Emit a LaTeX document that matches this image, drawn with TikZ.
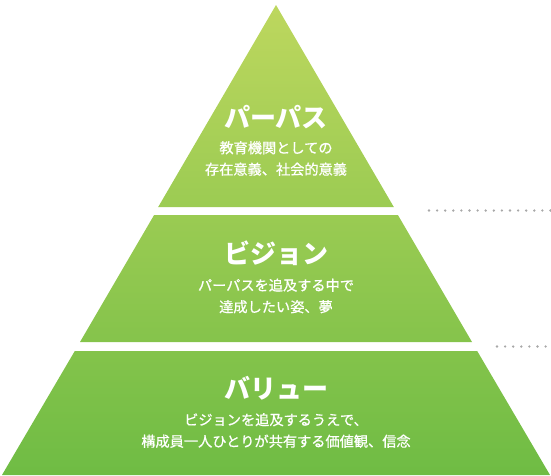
\documentclass[tikz,border=0pt]{standalone}
\usepackage{fontspec}
\newfontfamily\jp{Noto Sans CJK JP}
\newfontfamily\jpsub{Noto Sans CJK JP}[FakeBold=0.8]
\definecolor{gtop}{HTML}{BDD75E}
\definecolor{gmid}{HTML}{9CCB50}
\definecolor{gbot}{HTML}{6FBC44}
\definecolor{dotgray}{HTML}{A8A8A8}
\tikzset{
  titletext/.style={text=white, font=\jp\bfseries\fontsize{26}{30}\selectfont, inner sep=0pt, anchor=center},
  subtext/.style={text=white, font=\jpsub\fontsize{14.2}{21.5}\selectfont, inner sep=0pt, align=center, anchor=center},
  dotline/.style={dotgray, line width=2.6pt, line cap=round, dash pattern=on 0pt off 8.1pt}
}
\begin{document}
\begin{tikzpicture}[x=1pt,y=-1pt]
\useasboundingbox (0,0) rectangle (551,475);
% geometry: apex (276,5), base corners (2,475) and (550,475)
\begin{scope}
  \clip (276,5) -- (393.8,207) -- (158.2,207) -- cycle
        (154.1,215) -- (397.9,215) -- (472.0,342) -- (80.0,342) -- cycle
        (74.8,351) -- (477.2,351) -- (550,475) -- (2,475) -- cycle;
  \shade[top color=gtop, middle color=gmid, bottom color=gbot] (0,5) rectangle (551,475);
\end{scope}
% dotted separators
\coordinate (d1a) at (429,210.5);
\coordinate (d1b) at (551,210.5);
\coordinate (d2a) at (497,346.5);
\coordinate (d2b) at (551,346.5);
\draw[dotline] (d1a) -- (d1b);
\draw[dotline] (d2a) -- (d2b);
% texts
\node[titletext] (t1) at (276,117) {パーパス};
\node[subtext] (s1) at (276,158.5) {教育機関としての\\存在意義、社会的意義};
\node[titletext] (t2) at (276,253) {ビジョン};
\node[subtext] (s2) at (276,296) {パーパスを追及する中で\\達成したい姿、夢};
\node[titletext] (t3) at (276,388) {バリュー};
\node[subtext] (s3) at (276,430.5) {ビジョンを追及するうえで、\\構成員一人ひとりが共有する価値観、信念};
\end{tikzpicture}
\end{document}
